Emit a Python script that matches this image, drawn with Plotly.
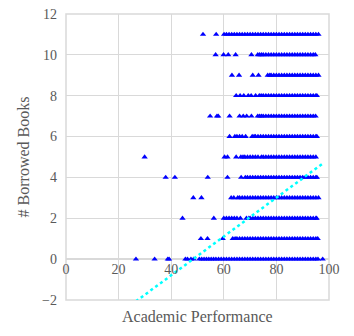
import plotly.graph_objects as go

# Academic performance values (x) for each number of borrowed books (row)
books_0_perf = [26.6, 33.7, 38.7, 39.2, 45.4, 46.2, 47.5, 48.5, 50.7, 51.6, 52.5, 53.4, 54.3, 55.2, 56.1,
                57, 58, 59, 60, 61, 62, 63, 64, 65, 66, 67, 68, 69, 70, 71, 72, 73, 74, 75, 76, 77, 78, 79,
                80, 81, 82, 83, 84, 85, 86, 87, 88, 89, 90, 91, 92, 93, 94, 95, 95.8, 97.6]
books_1_perf = [51.3, 53.8, 59.6, 63.4, 64.3, 65, 66, 67, 68, 69, 70, 71, 72, 73, 74, 75, 76, 77, 78, 79,
                80, 81, 82, 83, 84, 85, 86, 87, 88, 89, 90, 91, 92, 93, 94, 95, 95.7]
books_2_perf = [44.3, 56.2, 60, 61, 62, 63, 64, 65, 66.3, 68.6, 69.5, 70, 71, 72, 73, 74, 75, 76, 77, 78, 79,
                80, 81, 82, 83, 84, 85, 86, 87, 88, 89, 90, 91, 92, 93, 94, 95, 95.3]
books_3_perf = [48.4, 51.5, 62.8, 63.8, 65.3, 66, 67, 68, 69, 70, 71, 72, 73, 74, 75, 76, 77, 78, 79,
                80, 81, 82, 83, 84, 85, 86, 87, 88, 89, 90, 91, 92, 93, 94, 95, 96]
books_4_perf = [37.9, 41.4, 53.9, 61.4, 66.6, 68.2, 69, 70, 71, 72, 73, 74, 75, 76, 77, 78, 79,
                80, 81, 82, 83, 84, 85, 86, 87, 88, 89, 90, 91, 92, 93, 94, 95, 95.4]
books_5_perf = [29.9, 60.3, 61.4, 64.7, 66.5, 67.3, 68, 69, 70, 71, 72, 73, 74.3, 75, 76, 77, 78, 79,
                80, 81, 82, 83, 84, 85, 86, 87, 88, 89, 90, 91, 92, 93, 94, 95]
books_6_perf = [62.2, 64.2, 65, 66, 67, 68.3, 70.8, 71.5, 72, 73, 74, 75, 76, 77, 78, 79,
                80, 81, 82, 83, 84, 85, 86, 87, 88, 89, 90, 91, 92, 93, 94, 95, 95.4]
books_7_perf = [54.8, 57.4, 57.9, 62.2, 66, 67.4, 68.7, 70.5, 72.9, 73.6, 74.3, 75, 76, 77, 78, 79,
                80, 81, 82, 83, 84, 85, 86, 87, 88, 89, 90, 91, 92, 93, 94, 94.9]
books_8_perf = [64.7, 66.2, 67.6, 69.3, 70.4, 72.1, 73.5, 74.2, 75, 76, 77, 78, 79,
                80, 81, 82, 83, 84, 85, 86, 87, 88, 89, 90, 91, 92, 93, 94, 95, 95.4]
books_9_perf = [63.1, 65.8, 71, 73.2, 76.7, 77.5, 78, 79,
                80, 81, 82, 83, 84, 85, 86, 87, 88, 89, 90, 91, 92, 93, 94, 95, 96]
books_10_perf = [56.9, 59.9, 61.7, 64.5, 70.5, 72.9, 73.6, 74.3, 75, 76, 77, 78, 79,
                 80, 81, 82, 83, 84, 85, 86, 87, 88, 89, 90, 91, 92, 93, 94, 94.8]
books_11_perf = [52.1, 57.1, 60.1, 61, 62, 63, 64, 65, 66, 67, 68, 69, 70, 71, 72, 73, 74, 75, 76, 77, 78, 79,
                 80, 81, 82, 83, 84, 85, 86, 87, 88, 89, 90, 91, 92, 93, 94, 95, 96]

rows = [books_0_perf, books_1_perf, books_2_perf, books_3_perf, books_4_perf, books_5_perf,
        books_6_perf, books_7_perf, books_8_perf, books_9_perf, books_10_perf, books_11_perf]
book_counts = list(range(12))

# Linear trendline
trend_slope = 0.095
trend_intercept = -4.59

x_ticks = [0, 20, 40, 60, 80, 100]
y_ticks = [-2, 0, 2, 4, 6, 8, 10, 12]

xs, ys = [], []
for n, row in zip(book_counts, rows):
    xs.extend(row)
    ys.extend([n] * len(row))

tx = [min(xs), max(xs)]
ty = [trend_intercept + trend_slope * v for v in tx]

FONT = "Liberation Serif, Times New Roman, serif"
TXT = "#595959"
GRID = "#d9d9d9"

fig = go.Figure()
fig.add_trace(go.Scatter(x=xs, y=ys, mode="markers",
                         marker=dict(symbol="triangle-up", size=5.5, color="#0000FF", line=dict(width=0))))
fig.add_trace(go.Scatter(x=tx, y=ty, mode="lines",
                         line=dict(color="#00FFFF", width=2.5, dash="dot")))

fig.update_layout(
    width=346, height=328,
    margin=dict(l=58, r=25, t=6, b=36),
    paper_bgcolor="white", plot_bgcolor="white",
    showlegend=False,
    font=dict(family=FONT, color=TXT, size=14),
    xaxis=dict(range=[0, 100], tickvals=x_ticks, showgrid=True, gridcolor=GRID, gridwidth=1,
               zeroline=False, showline=False, ticks="", anchor="free", position=2 / 14,
               automargin=False, ticklabeloverflow="allow",
               tickfont=dict(family=FONT, size=14, color=TXT)),
    yaxis=dict(range=[-2, 12], tickvals=y_ticks, showgrid=True, gridcolor=GRID, gridwidth=1,
               zeroline=True, zerolinecolor=GRID, zerolinewidth=2, showline=False, ticks="",
               ticklabelstandoff=8, automargin=False, ticklabeloverflow="allow",
               tickfont=dict(family=FONT, size=14, color=TXT),
               title=dict(text="# Borrowed Books", font=dict(family=FONT, size=16, color=TXT), standoff=8)),
    shapes=[dict(type="rect", xref="x domain", yref="y domain", x0=0, y0=0, x1=1, y1=1,
                 line=dict(color=GRID, width=1.5), layer="below")],
    annotations=[dict(text="Academic Performance", xref="paper", yref="paper", x=0.5, y=-0.056,
                      xanchor="center", yanchor="middle", showarrow=False,
                      font=dict(family=FONT, size=16, color=TXT))],
)

fig.write_html("out.html")
